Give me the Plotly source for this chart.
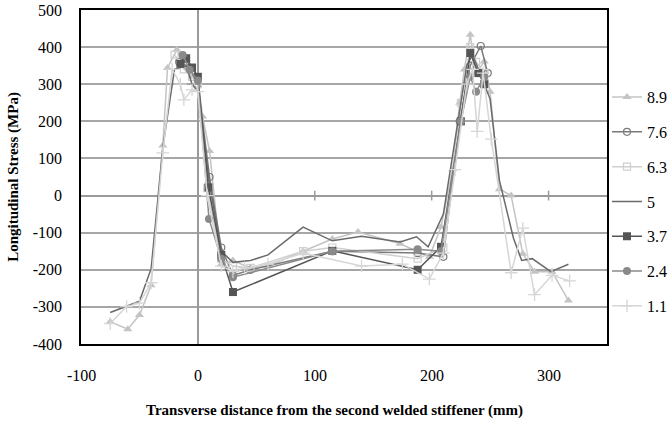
import plotly.graph_objects as go

# ---- data ----
x_89 = [-75, -60, -50, -40, -30, -26, -18, -12, -5, 0, 4, 10, 20, 30, 45, 60, 90, 115, 137, 173, 198, 208, 218, 224, 228, 233, 238, 245, 250, 258, 268, 278, 288, 303, 317]
y_89 = [-340, -360, -322, -242, 135, 344, 393, 350, 320, 312, 213, 120, -185, -175, -195, -190, -150, -117, -98, -130, -165, -85, 71, 250, 340, 433, 330, 361, 280, 17, 0, -157, -205, -205, -283]

x_76 = [-16, -10, -5, 0, 10, 20, 30, 45, 115, 188, 210, 224, 233, 242, 248]
y_76 = [360, 350, 330, 300, 50, -140, -215, -200, -150, -155, -165, 200, 350, 403, 330]

x_63 = [-20, -12, -5, 0, 8, 20, 30, 45, 90, 115, 188, 210, 225, 233, 238, 245]
y_63 = [380, 340, 320, 300, 20, -170, -190, -195, -150, -140, -170, -140, 250, 400, 360, 330]

x_5 = [-75, -50, -40, -30, -20, -10, -5, 0, 10, 20, 30, 45, 60, 90, 115, 140, 173, 187, 197, 210, 220, 230, 235, 240, 250, 258, 270, 277, 286, 302, 317]
y_5 = [-315, -285, -197, 130, 340, 350, 300, 280, 30, -150, -180, -175, -160, -85, -122, -110, -125, -111, -138, -50, 150, 350, 380, 340, 260, 40, -115, -175, -170, -205, -185]

x_37 = [-15, -10, -5, 0, 9, 20, 30, 115, 188, 208, 225, 233, 240, 245]
y_37 = [355, 370, 345, 320, 22, -160, -260, -149, -200, -138, 200, 384, 330, 300]

x_24 = [-13, -7, 0, 9.5, 20, 30, 115, 188, 208, 225, 233, 238, 245]
y_24 = [379, 339, 310, -63, -170, -220, -150, -145, -150, 200, 320, 280, 320]

x_11 = [-75, -61, -50, -40, -30, -22, -15, -12, -5, 0, 8, 20, 30, 40, 60, 90, 140, 175, 198, 210, 220, 230, 235, 239, 244, 251, 268, 278, 288, 303, 318]
y_11 = [-345, -299, -290, -235, 115, 340, 300, 258, 285, 280, 0, -190, -205, -195, -185, -155, -190, -185, -225, -155, 70, 300, 340, 173, 330, 152, -208, -88, -267, -215, -230]

series_names = ["8.9", "7.6", "6.3", "5", "3.7", "2.4", "1.1"]
x_ticks = [-100, 0, 100, 200, 300]
y_ticks = [-400, -300, -200, -100, 0, 100, 200, 300, 400, 500]
x_title = "Transverse distance from the second welded stiffener (mm)"
y_title = "Longitudinal Stress (MPa)"

# ---- styles ----
styles = [
    (x_89, y_89, dict(symbol="triangle-up", size=8, color="#c4c4c4"), "#c4c4c4", "lines+markers"),
    (x_76, y_76, dict(symbol="circle-open", size=7, color="#7a7a7a", line=dict(width=1.2)), "#7a7a7a", "lines+markers"),
    (x_63, y_63, dict(symbol="square-open", size=7, color="#cfcfcf", line=dict(width=1.2)), "#cfcfcf", "lines+markers"),
    (x_5, y_5, None, "#6a6a6a", "lines"),
    (x_37, y_37, dict(symbol="square", size=8, color="#555555"), "#555555", "lines+markers"),
    (x_24, y_24, dict(symbol="circle", size=8, color="#8a8a8a"), "#8a8a8a", "lines+markers"),
    (x_11, y_11, dict(symbol="cross-thin-open", size=9, color="#d6d6d6", line=dict(width=1.3, color="#d6d6d6")), "#d6d6d6", "lines+markers"),
]

fig = go.Figure()

# small tick marks on the horizontal zero axis (category axis crossing at y = 0)
fig.add_trace(go.Scatter(x=x_ticks[1:], y=[0] * (len(x_ticks) - 1), mode="markers",
                         marker=dict(symbol="line-ns", size=7, line=dict(color="#9a9a9a", width=1.5)),
                         showlegend=False, hoverinfo="skip"))

for name, (xs, ys, mk, lc, mode) in zip(series_names, styles):
    kw = dict(x=xs, y=ys, name=name, mode=mode, line=dict(color=lc, width=1.5), legendgroup=name)
    if mk:
        kw["marker"] = mk
    fig.add_trace(go.Scatter(**kw))

font_family = "Liberation Serif"

# x tick labels placed through the x scale, low under the plot box (as in the reference)
annotations = [dict(x=v, xref="x", y=-0.093, yref="paper", text=str(v), showarrow=False,
                    xanchor="center", yanchor="middle",
                    font=dict(family=font_family, size=16, color="black"))
               for v in x_ticks]
annotations.append(dict(x=0.481, xref="paper", y=-0.198, yref="paper",
                        text="<b>" + x_title + "</b>", showarrow=False,
                        xanchor="center", yanchor="middle",
                        font=dict(family=font_family, size=15, color="black")))

fig.update_layout(
    width=668, height=421,
    margin=dict(l=81, r=61, t=10, b=77, autoexpand=False),
    paper_bgcolor="white", plot_bgcolor="white",
    font=dict(family=font_family, size=16, color="black"),
    showlegend=True,
    legend=dict(x=1.0, xanchor="left", y=0.79, yanchor="top",
                font=dict(family=font_family, size=16), tracegroupgap=11, itemwidth=30,
                bgcolor="rgba(0,0,0,0)", borderwidth=0),
    annotations=annotations,
    xaxis=dict(range=[-100, 350], tickvals=x_ticks, showticklabels=False,
               showgrid=False, zeroline=True, zerolinecolor="#9a9a9a", zerolinewidth=1.5,
               showline=True, linecolor="black", linewidth=1.5, mirror=True,
               ticks="", automargin=False),
    yaxis=dict(range=[-400, 500], tickvals=y_ticks, ticktext=[str(v) for v in y_ticks],
               showgrid=True, gridcolor="#a6a6a6", gridwidth=1.5,
               zeroline=True, zerolinecolor="#9a9a9a", zerolinewidth=1.5,
               showline=True, linecolor="black", linewidth=1.5, mirror=True,
               ticks="", ticklabelstandoff=14, automargin=False,
               tickfont=dict(family=font_family, size=16),
               title=dict(text="<b>" + y_title + "</b>",
                          font=dict(family=font_family, size=15), standoff=10)),
)

fig.write_html("out.html")
